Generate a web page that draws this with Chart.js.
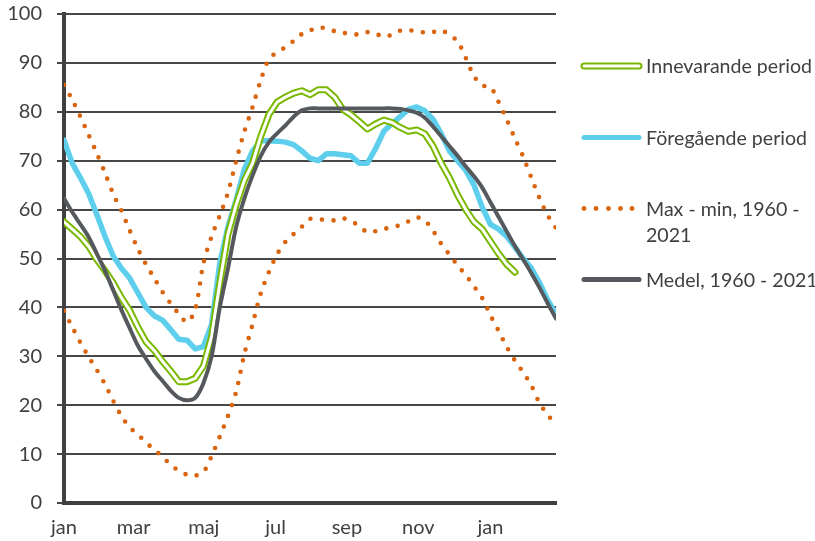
<!DOCTYPE html>
<html>
<head>
<meta charset="utf-8">
<script src="https://cdn.jsdelivr.net/npm/chart.js@4/dist/chart.umd.min.js"></script>
<style>
  html, body { margin: 0; padding: 0; background: #fff; }
  #wrap { position: relative; width: 815px; height: 541px; overflow: hidden; }
  #c { position: absolute; left: 0; top: 0; }
  .lg { position: absolute; left: 646px; font-family: Lato, "Liberation Sans", sans-serif; font-size: 18.4px; line-height: 26px; color: #404040; white-space: nowrap; }
  svg { position: absolute; left: 0; top: 0; }
</style>
</head>
<body>
<div id="wrap">
  <canvas id="c" width="815" height="541"></canvas>
  <svg width="815" height="541">
    <line x1="584" y1="66" x2="639" y2="66" stroke="#79B800" stroke-width="7" stroke-linecap="round"/>
    <line x1="584" y1="66" x2="639" y2="66" stroke="#fff" stroke-width="3" stroke-linecap="round"/>
    <line x1="584" y1="137.5" x2="639" y2="137.5" stroke="#5DCFEC" stroke-width="5" stroke-linecap="round"/>
    <circle cx="584" cy="208.5" r="2.4" fill="#D8650E"/>
    <circle cx="596" cy="208.5" r="2.4" fill="#D8650E"/>
    <circle cx="608.5" cy="208.5" r="2.4" fill="#D8650E"/>
    <circle cx="620.5" cy="208.5" r="2.4" fill="#D8650E"/>
    <circle cx="632" cy="208.5" r="2.4" fill="#D8650E"/>
    <line x1="584" y1="279.5" x2="639" y2="279.5" stroke="#55595D" stroke-width="5" stroke-linecap="round"/>
  </svg>
  <div class="lg" id="lg1" style="top:53px">Innevarande period</div>
  <div class="lg" style="top:124.5px">Föregående period</div>
  <div class="lg" style="top:195.5px">Max - min, 1960 -<br>2021</div>
  <div class="lg" style="top:266.5px">Medel, 1960 - 2021</div>
</div>
<script>
// Week index along the x axis (0 = start of January)
const weeks = [0,1,2,3,4,5,6,7,8,9,10,11,12,13,14,15,16,17,18,19,20,21,22,23,24,25,26,27,28,29,30,
  31,32,33,34,35,36,37,38,39,40,41,42,43,44,45,46,47,48,49,50,51,52,53,54,55,56,57,58,59,60];

// Month tick positions (in weeks) and labels
const monthPos = [0, 8.5, 17.05, 25.8, 34.5, 43.2, 52];
const monthLabels = ['jan', 'mar', 'maj', 'jul', 'sep', 'nov', 'jan'];

// Innevarande period
const innevarande = [57.5,56,54.5,52.5,49.8,47.5,45,42,39.4,36,33,31.2,29,27,24.8,24.8,25.5,28,34,45,
  55,61,66,69.5,75,79.5,82,83,83.8,84.3,83.5,84.5,84.5,83,80.5,79.4,78,76.5,77.5,78.3,
  77.8,76.8,76,76.3,75.5,73,69.5,66.5,63,60,57.5,56,53.5,51,48.8,47.2];

// Föregående period
const foregaende = [74.2,69.5,66.5,63.3,59,54.5,50.5,48,46,43,40,38.3,37.4,35.5,33.5,33.3,31.5,32,36.5,49,
  56.5,62,68.3,72,74.1,74.1,74,73.8,73.3,72,70.5,70,71.4,71.4,71.2,71,69.5,69.5,72.5,76,
  77.6,79,80.5,81,80.2,78.5,75.5,72,70,68,65,60.5,57,56,54.5,52.3,50,48,45,41.5,38.5];

// Max, 1960 - 2021
const maxVals = [85.5,82.5,79,75.3,71.5,67.5,63.2,59.8,55.8,52,48.8,46,43.2,40.8,38.7,37,39.5,49,54.5,58.8,
  63.5,70,76,81,86.5,90.8,92.2,93.2,94.5,95.9,96.6,97.3,97,96.5,96.2,95.8,95.9,96.3,96,95.3,
  95.8,96.6,96.6,96.6,96.2,96.3,96.7,95.7,94.4,91,87.3,85.4,85.1,82,78.4,74.5,70.8,66.5,62.3,58.8,56.2];

// Min, 1960 - 2021
const minVals = [39.3,36,32.8,29.9,27.2,24.3,20.9,17.8,15.5,14,12.4,10.9,9.5,7.8,6.6,5.8,5.6,6.3,9.6,13.6,
  17.8,22.8,30.5,36.6,42.9,47.3,50.9,53.4,55,56.5,58.1,58,57.9,57.8,58.2,57.7,56.6,55.4,55.6,56,
  56.5,56.8,57.6,58.4,57.8,55.7,53,50.8,48.6,46.6,44.3,41.9,38.4,35.2,31.9,29.1,26.7,24,20.4,18,16];

// Medel, 1960 - 2021
const medel = [62.3,59.5,57,54.4,51,47.5,43.5,39.5,35.8,32.2,29.5,27,25,23,21.5,21,21.5,24.5,30,40,
  48,56.5,62.3,67,71,73.8,75.6,77.2,79,80.3,80.7,80.7,80.7,80.7,80.7,80.7,80.7,80.7,80.7,80.7,
  80.7,80.6,80.3,79.8,78.8,77,75,73,71,68.8,66.8,64.5,61.5,58.5,55.5,52.5,49.8,47,44,40.8,37.7];

const toXY = arr => arr.map((v, i) => ({ x: weeks[i], y: v }));

const GREEN = '#79B800', BLUE = '#5DCFEC', ORANGE = '#D8650E', GREY = '#55595D', AXIS = '#404040';

// fit legend font so the widest entry spans the same width as in the original
(function fitLegend() {
  const el = document.getElementById('lg1');
  const w = el.getBoundingClientRect().width;
  if (w > 0) {
    const size = 18.4 * 166 / w;
    document.querySelectorAll('.lg').forEach(d => { d.style.fontSize = size.toFixed(2) + 'px'; });
  }
})();

new Chart(document.getElementById('c'), {
  type: 'line',
  data: {
    datasets: [
      { label: 'Medel, 1960 - 2021', data: toXY(medel), borderColor: GREY, borderWidth: 4, tension: 0.3,
        pointRadius: 0, borderCapStyle: 'round', borderJoinStyle: 'round' },
      { label: 'Innevarande period (kärna)', data: toXY(innevarande), borderColor: '#ffffff', borderWidth: 3,
        pointRadius: 0, borderCapStyle: 'round', borderJoinStyle: 'round' },
      { label: 'Innevarande period', data: toXY(innevarande), borderColor: GREEN, borderWidth: 7,
        pointRadius: 0, borderCapStyle: 'round', borderJoinStyle: 'round' },
      { label: 'Max', data: toXY(maxVals), borderColor: ORANGE, borderWidth: 4.6, borderDash: [0, 11.5],
        borderCapStyle: 'round', tension: 0.3, pointRadius: 0 },
      { label: 'Min', data: toXY(minVals), borderColor: ORANGE, borderWidth: 4.6, borderDash: [0, 11.5],
        borderCapStyle: 'round', tension: 0.3, pointRadius: 0 },
      { label: 'Föregående period', data: toXY(foregaende), borderColor: BLUE, borderWidth: 5.5,
        pointRadius: 0, borderCapStyle: 'round', borderJoinStyle: 'round' }
    ]
  },
  options: {
    responsive: false,
    devicePixelRatio: 1,
    animation: false,
    layout: { padding: { left: 0, top: 0, right: 259, bottom: 0 } },
    plugins: { legend: { display: false }, tooltip: { enabled: false } },
    scales: {
      x: {
        type: 'linear', min: 0, max: 60,
        grid: { display: false, drawTicks: false },
        border: { display: true, color: AXIS, width: 4 },
        afterBuildTicks: s => { s.ticks = monthPos.map(v => ({ value: v })); },
        afterFit: s => { s.height = 38; s.paddingLeft = 0; s.paddingRight = 0; },
        ticks: {
          autoSkip: false, maxRotation: 0, padding: 13, color: AXIS,
          font: { family: 'Lato', size: 20 },
          callback: (v, i) => monthLabels[i]
        }
      },
      y: {
        min: 0, max: 100,
        afterFit: s => { s.width = 64; s.paddingTop = 14; s.paddingBottom = 0; },
        grid: { color: '#474747', lineWidth: 2, tickLength: 7, drawTicks: true },
        border: { display: true, color: AXIS, width: 4 },
        ticks: { stepSize: 10, padding: 15, color: AXIS, font: { family: 'Lato', size: 20 } }
      }
    }
  }
});
</script>
</body>
</html>
